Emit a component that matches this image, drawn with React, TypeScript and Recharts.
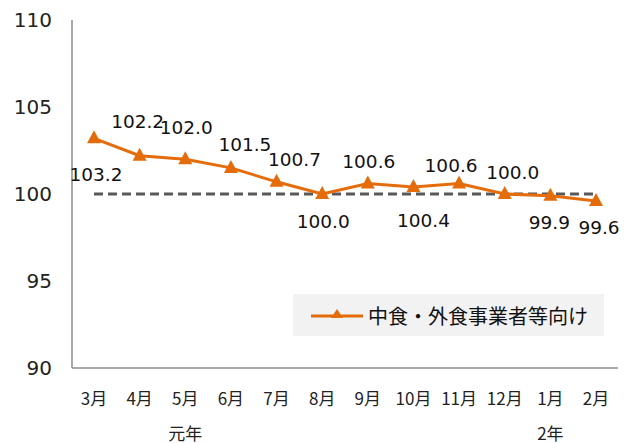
import { LineChart, Line, XAxis, YAxis, Legend } from "recharts";

const months = ["3月", "4月", "5月", "6月", "7月", "8月", "9月", "10月", "11月", "12月", "1月", "2月"];
const years = ["", "", "元年", "", "", "", "", "", "", "", "2年", ""];
const foodService = [103.2, 102.2, 102.0, 101.5, 100.7, 100.0, 100.6, 100.4, 100.6, 100.0, 99.9, 99.6];
const baseline = [100, 100, 100, 100, 100, 100, 100, 100, 100, 100, 100, 100];
const yTicks = [90, 95, 100, 105, 110];
const seriesName = "中食・外食事業者等向け";

// where each value label sits relative to its point (dx, dy)
const labelOffsets: [number, number][] = [
  [2, 36], [-2, -34], [1, -32], [14, -23], [18, -22], [1, 27],
  [1, -22], [10, 33], [-8, -18], [8, -22], [-1, 27], [3, 27],
];

const data = months.map((m, i) => ({ month: m, value: foodService[i], base: baseline[i] }));

const ORANGE = "#E46C0A";
const FONT = "'DejaVu Sans', Verdana, sans-serif";
const JP_FONT = "'Noto Sans CJK JP', 'Noto Sans', sans-serif";

function MonthTick(props: any) {
  const { x, y, payload } = props;
  const i = months.indexOf(payload.value);
  return (
    <g>
      <text x={x} y={y + 27} textAnchor="middle" dominantBaseline="central" fontSize={17} fill="#222" fontFamily={JP_FONT}>
        {payload.value}
      </text>
      {years[i] ? (
        <text x={x} y={y + 62} textAnchor="middle" dominantBaseline="central" fontSize={17} fill="#222" fontFamily={JP_FONT}>
          {years[i]}
        </text>
      ) : null}
    </g>
  );
}

function Triangle(props: any) {
  const { cx, cy } = props;
  if (cx == null || cy == null) return <g />;
  return <polygon points={`${cx},${cy - 8} ${cx - 7},${cy + 5} ${cx + 7},${cy + 5}`} fill={ORANGE} />;
}

function ValueLabel(props: any) {
  const { x, y, value, index } = props;
  const [dx, dy] = labelOffsets[index] ?? [0, -20];
  return (
    <text x={x + dx} y={y + dy} textAnchor="middle" dominantBaseline="central" fontSize={18.5} fill="#111" fontFamily={FONT}>
      {Number(value).toFixed(1)}
    </text>
  );
}

function LegendBox() {
  return (
    <div style={{ background: "#F2F2F2", width: 311, height: 42, display: "flex", alignItems: "center" }}>
      <svg width={56} height={20} style={{ marginLeft: 18 }}>
        <line x1={0} y1={11} x2={52} y2={11} stroke={ORANGE} strokeWidth={3} />
        <polygon points="26,4 20,13 32,13" fill={ORANGE} />
      </svg>
      <span style={{ fontFamily: JP_FONT, fontSize: 20, color: "#111", marginLeft: 1 }}>{seriesName}</span>
    </div>
  );
}

export default function App() {
  return (
    <div style={{ position: "absolute", left: 0, top: 0, background: "#fff" }}>
      <LineChart width={634} height={443} data={data} margin={{ top: 20, right: 16, left: 10, bottom: 0 }}>
        <XAxis
          dataKey="month"
          height={75}
          tick={<MonthTick />}
          tickLine={false}
          tickSize={0}
          interval={0}
          padding={{ left: 22, right: 22 }}
          stroke="#8c8c8c"
          strokeWidth={1.5}
        />
        <YAxis
          domain={[90, 110]}
          ticks={yTicks}
          width={62}
          tickLine={false}
          tickSize={0}
          tickMargin={20}
          stroke="#8c8c8c"
          strokeWidth={1.5}
          tick={{ fontSize: 20, fill: "#222", fontFamily: FONT }}
        />
        <Line
          dataKey="base"
          stroke="#595959"
          strokeWidth={3}
          strokeDasharray="9 5"
          dot={false}
          isAnimationActive={false}
          legendType="none"
        />
        <Line
          dataKey="value"
          name={seriesName}
          stroke={ORANGE}
          strokeWidth={3}
          dot={<Triangle />}
          label={<ValueLabel />}
          isAnimationActive={false}
        />
        <Legend
          layout="horizontal"
          verticalAlign="middle"
          align="center"
          wrapperStyle={{ position: "absolute", left: 293, top: 294, width: 311, height: 42 }}
          content={() => <LegendBox />}
        />
      </LineChart>
    </div>
  );
}
